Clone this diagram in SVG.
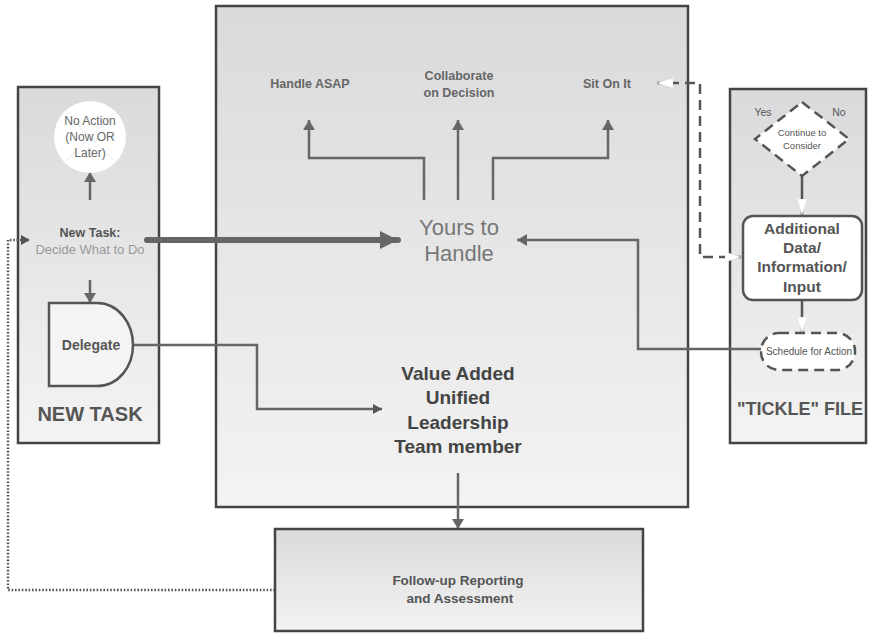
<svg xmlns="http://www.w3.org/2000/svg" width="870" height="634" viewBox="0 0 870 634">
<defs>
<linearGradient id="gp" x1="0" y1="0" x2="0" y2="1">
<stop offset="0" stop-color="#dadadc"/>
<stop offset="1" stop-color="#f3f3f3"/>
</linearGradient>
<marker id="ah" markerUnits="userSpaceOnUse" markerWidth="10" markerHeight="12" viewBox="0 0 10 12" refX="10" refY="6" orient="auto">
<path d="M0,0 L10,6 L0,12 z" fill="#666"/>
</marker>
<marker id="ahs" markerUnits="userSpaceOnUse" markerWidth="9" markerHeight="10" viewBox="0 0 9 10" refX="9" refY="5" orient="auto">
<path d="M0,0 L9,5 L0,10 z" fill="#555"/>
</marker>
<marker id="aht" markerUnits="userSpaceOnUse" markerWidth="18" markerHeight="18" viewBox="0 0 18 18" refX="18" refY="9" orient="auto">
<path d="M0,0 L18,9 L0,18 z" fill="#666"/>
</marker>
<marker id="ahw" markerUnits="userSpaceOnUse" markerWidth="16" markerHeight="10" viewBox="0 0 16 10" refX="16" refY="5" orient="auto-start-reverse">
<path d="M0,0 L16,5 L0,10 z" fill="#ffffff" stroke="#dddddd" stroke-width="0.5"/>
</marker>
</defs>
<style>
.panel{fill:url(#gp);stroke:#444;stroke-width:2.5}
.t{font-family:"Liberation Sans",Arial,sans-serif;text-anchor:middle}
.b{font-weight:bold}
.conn{fill:none;stroke:#666;stroke-width:2.5}
</style>
<rect width="870" height="634" fill="#ffffff"/>

<g id="panel-center">
<rect class="panel" x="216" y="6" width="472" height="501"/>
</g>
<g id="panel-new-task">
<rect class="panel" x="18" y="87" width="141" height="356"/>
<text class="t b" x="90" y="421" font-size="20" fill="#555">NEW TASK</text>
</g>
<g id="panel-tickle">
<rect class="panel" x="730" y="89" width="136" height="354"/>
<text class="t b" x="800" y="415" font-size="18" fill="#555">"TICKLE" FILE</text>
</g>

<g id="connectors">
<path class="conn" d="M90 200 V172" marker-end="url(#ah)"/>
<path d="M147 240 H398" fill="none" stroke="#666" stroke-width="6" stroke-linecap="round" marker-end="url(#aht)"/>
<path class="conn" d="M90 280 V303" marker-end="url(#ah)"/>
<path class="conn" d="M133 345 H257 V409 H382" marker-end="url(#ahs)"/>
<path class="conn" d="M424 200 V158 H309 V120" marker-end="url(#ah)"/>
<path class="conn" d="M458 200 V120" marker-end="url(#ah)"/>
<path class="conn" d="M493 200 V158 H608 V120" marker-end="url(#ah)"/>
<path class="conn" d="M761 349 H638 V240 H517" marker-end="url(#ah)"/>
<path class="conn" d="M458 473 V529" marker-end="url(#ah)"/>
<path d="M275 590 H8 V240 H30" fill="none" stroke="#555" stroke-width="2.5" stroke-dasharray="1.6 1.8" marker-end="url(#ahs)"/>
<path d="M741 257 H700 V83 H657" fill="none" stroke="#555" stroke-width="2.5" stroke-dasharray="10 6" stroke-dashoffset="4" marker-start="url(#ahw)" marker-end="url(#ahw)"/>
<path d="M802 175 V215" fill="none" stroke="#555" stroke-width="2.5" marker-end="url(#ahw)"/>
<path d="M802 300 V333" fill="none" stroke="#555" stroke-width="2.5" marker-end="url(#ahw)"/>
</g>

<g id="no-action">
<circle cx="90" cy="137" r="36" fill="#ffffff"/>
<path d="M66 113 L114 161 M114 113 L66 161" stroke="#ececec" stroke-width="1"/>
<text class="t" font-size="12" fill="#666"><tspan x="90" y="125">No Action</tspan><tspan x="90" y="141">(Now OR</tspan><tspan x="90" y="157">Later)</tspan></text>
</g>
<g id="new-task">
<text class="t b" x="90" y="237" font-size="12.5" fill="#555">New Task:</text>
<text class="t" x="90" y="254" font-size="13" fill="#999">Decide What to Do</text>
</g>
<g id="delegate">
<path d="M49 303 H97 C119 303 133 324 133 345 C133 366 119 386 97 386 H49 Z" fill="#f4f4f4" stroke="#555" stroke-width="2.5"/>
<text class="t b" x="91" y="350" font-size="14" fill="#555">Delegate</text>
</g>

<g id="handle-asap">
<text class="t b" x="310" y="88" font-size="12.5" fill="#666">Handle ASAP</text>
</g>
<g id="collaborate">
<text class="t b" font-size="12.5" fill="#666"><tspan x="459" y="80">Collaborate</tspan><tspan x="459" y="97">on Decision</tspan></text>
</g>
<g id="sit-on-it">
<text class="t b" x="607" y="88" font-size="12.5" fill="#666">Sit On It</text>
</g>
<g id="yours-to-handle">
<text class="t" font-size="22" fill="#777"><tspan x="459" y="235">Yours to</tspan><tspan x="459" y="261">Handle</tspan></text>
</g>
<g id="value-added">
<text class="t b" font-size="19" fill="#444"><tspan x="458" y="380">Value Added</tspan><tspan x="458" y="404">Unified</tspan><tspan x="458" y="429">Leadership</tspan><tspan x="458" y="453">Team member</tspan></text>
</g>

<g id="follow-up">
<rect class="panel" x="275" y="529" width="368" height="102"/>
<text class="t b" font-size="13.5" fill="#555"><tspan x="458" y="585">Follow-up Reporting</tspan><tspan x="458" y="603"> and Assessment</tspan></text>
</g>

<g id="continue-to-consider">
<path d="M802 102 L849 139 L802 176 L755 139 Z" fill="#ffffff" stroke="#555" stroke-width="2.5" stroke-dasharray="10 6"/>
<text class="t" font-size="9.5" fill="#555"><tspan x="802" y="136">Continue to</tspan><tspan x="802" y="149">Consider</tspan></text>
<text class="t" x="763" y="116" font-size="10.5" fill="#555">Yes</text>
<text class="t" x="839" y="116" font-size="10.5" fill="#555">No</text>
</g>
<g id="additional-data">
<rect x="743" y="216" width="119" height="84" rx="10" fill="#ffffff" stroke="#555" stroke-width="2.5"/>
<text class="t b" font-size="15.5" fill="#555"><tspan x="802" y="234">Additional</tspan><tspan x="802" y="253">Data/</tspan><tspan x="802" y="272">Information/</tspan><tspan x="802" y="292">Input</tspan></text>
</g>
<g id="schedule">
<rect x="761" y="333" width="94" height="37" rx="18" fill="#ffffff" stroke="#555" stroke-width="2.5" stroke-dasharray="10 6"/>
<text class="t" x="809" y="355" font-size="10" fill="#555">Schedule for Action</text>
</g>
</svg>
